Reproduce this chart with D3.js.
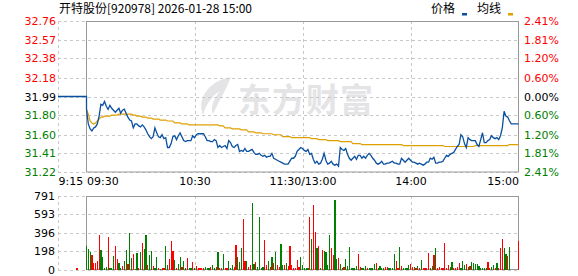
<!DOCTYPE html>
<html>
<head>
<meta charset="utf-8">
<script src="https://cdn.jsdelivr.net/npm/d3@7/dist/d3.min.js"></script>
<style>
  body { margin: 0; background: #fff; }
  svg { display: block; }
  .axis text { font-family: "DejaVu Sans", sans-serif; font-size: 11px; }
</style>
</head>
<body>
<div id="chart"></div>
<script>
// intraday chart, 9:30 = minute 0, 15:00 = minute 240 (lunch break collapsed)
const title = '开特股份[920978] 2026-01-28 15:00';
const preClose = 31.99;

const priceTicks = [32.76, 32.57, 32.38, 32.18, 31.99, 31.80, 31.60, 31.41, 31.22];
const pctTickLabels = ['2.41%', '1.81%', '1.20%', '0.60%', '0.00%', '0.60%', '1.20%', '1.81%', '2.41%'];
const volTicks = [791, 593, 396, 198, 0];
const timeTicks = [-15, 0, 60, 120, 180, 240];
const timeTickLabels = ['9:15', '09:30', '10:30', '11:30/13:00', '14:00', '15:00'];
const gridMinutes = [-15, 60, 120, 180];

// call auction (minutes before 9:30)
const preTimes = [-15, 0];
const prePrices = [31.99, 31.99];
const preVolTimes = [-5];
const preVols = [15];

const prices = [
  31.86, 31.71, 31.66, 31.64, 31.67, 31.68, 31.71, 31.79, 31.91, 31.90,
  31.94, 31.89, 31.86, 31.90, 31.87, 31.85, 31.83, 31.85, 31.87, 31.82,
  31.85, 31.86, 31.82, 31.78, 31.75, 31.74, 31.67, 31.71, 31.71, 31.69,
  31.68, 31.70, 31.68, 31.65, 31.61, 31.58, 31.56, 31.58, 31.67, 31.62,
  31.58, 31.57, 31.60, 31.56, 31.57, 31.47, 31.47, 31.51, 31.58, 31.59,
  31.55, 31.59, 31.62, 31.58, 31.54, 31.53, 31.54, 31.54, 31.54, 31.59,
  31.57, 31.60, 31.61, 31.61, 31.61, 31.61, 31.58, 31.54, 31.54, 31.53,
  31.53, 31.55, 31.54, 31.47, 31.49, 31.47, 31.48, 31.49, 31.46, 31.54,
  31.52, 31.48, 31.47, 31.49, 31.50, 31.43, 31.44, 31.43, 31.46, 31.43,
  31.43, 31.44, 31.45, 31.42, 31.40, 31.40, 31.41, 31.39, 31.38, 31.39,
  31.37, 31.38, 31.38, 31.41, 31.36, 31.35, 31.34, 31.33, 31.32, 31.31,
  31.30, 31.30, 31.30, 31.33, 31.36, 31.36, 31.38, 31.43, 31.45, 31.47,
  31.46, 31.44, 31.43, 31.45, 31.40, 31.41, 31.35, 31.31, 31.33, 31.30,
  31.31, 31.35, 31.41, 31.34, 31.30, 31.31, 31.33, 31.30, 31.29, 31.30,
  31.28, 31.47, 31.45, 31.44, 31.46, 31.40, 31.36, 31.34, 31.36, 31.38,
  31.35, 31.39, 31.39, 31.36, 31.38, 31.36, 31.39, 31.41, 31.39, 31.36,
  31.34, 31.31, 31.30, 31.31, 31.33, 31.30, 31.30, 31.31, 31.31, 31.32,
  31.33, 31.31, 31.31, 31.30, 31.30, 31.36, 31.34, 31.32, 31.34, 31.36,
  31.34, 31.32, 31.32, 31.31, 31.30, 31.31, 31.30, 31.29, 31.30, 31.32,
  31.32, 31.36, 31.35, 31.37, 31.31, 31.31, 31.32, 31.32, 31.33, 31.36,
  31.39, 31.38, 31.40, 31.41, 31.42, 31.45, 31.48, 31.50, 31.60, 31.58,
  31.51, 31.47, 31.57, 31.55, 31.54, 31.54, 31.54, 31.50, 31.48, 31.55,
  31.62, 31.52, 31.52, 31.54, 31.55, 31.59, 31.57, 31.56, 31.57, 31.55,
  31.59, 31.67, 31.84, 31.79, 31.78, 31.74, 31.71, 31.71, 31.71, 31.71,
  31.71
];

const avgPrices = [
  31.86, 31.81, 31.74, 31.72, 31.71, 31.72, 31.74, 31.76, 31.78, 31.78,
  31.79, 31.79, 31.79, 31.79, 31.80, 31.80, 31.80, 31.80, 31.81, 31.81,
  31.81, 31.81, 31.81, 31.81, 31.81, 31.81, 31.80, 31.80, 31.79, 31.79,
  31.79, 31.78, 31.78, 31.78, 31.77, 31.77, 31.77, 31.76, 31.76, 31.76,
  31.76, 31.75, 31.75, 31.75, 31.75, 31.74, 31.74, 31.74, 31.74, 31.72,
  31.72, 31.72, 31.72, 31.71, 31.71, 31.71, 31.71, 31.70, 31.70, 31.70,
  31.70, 31.70, 31.70, 31.70, 31.70, 31.70, 31.70, 31.70, 31.70, 31.70,
  31.70, 31.70, 31.70, 31.70, 31.69, 31.69, 31.69, 31.67, 31.67, 31.67,
  31.67, 31.66, 31.66, 31.66, 31.66, 31.66, 31.65, 31.65, 31.65, 31.65,
  31.63, 31.63, 31.63, 31.63, 31.62, 31.62, 31.62, 31.62, 31.61, 31.61,
  31.61, 31.61, 31.61, 31.61, 31.60, 31.60, 31.60, 31.60, 31.60, 31.58,
  31.58, 31.58, 31.58, 31.58, 31.57, 31.57, 31.57, 31.57, 31.57, 31.57,
  31.57, 31.57, 31.57, 31.57, 31.57, 31.56, 31.56, 31.56, 31.56, 31.55,
  31.55, 31.55, 31.55, 31.55, 31.54, 31.54, 31.54, 31.54, 31.54, 31.54,
  31.54, 31.53, 31.53, 31.53, 31.53, 31.53, 31.53, 31.53, 31.51, 31.51,
  31.51, 31.51, 31.51, 31.50, 31.50, 31.50, 31.50, 31.50, 31.50, 31.50,
  31.50, 31.50, 31.50, 31.50, 31.50, 31.50, 31.50, 31.50, 31.50, 31.50,
  31.50, 31.50, 31.50, 31.50, 31.50, 31.50, 31.49, 31.49, 31.49, 31.49,
  31.49, 31.49, 31.49, 31.49, 31.49, 31.49, 31.49, 31.49, 31.49, 31.49,
  31.49, 31.49, 31.49, 31.49, 31.49, 31.49, 31.49, 31.49, 31.49, 31.48,
  31.48, 31.48, 31.48, 31.48, 31.48, 31.48, 31.48, 31.48, 31.48, 31.48,
  31.48, 31.48, 31.48, 31.48, 31.48, 31.48, 31.49, 31.49, 31.49, 31.49,
  31.49, 31.49, 31.49, 31.49, 31.49, 31.49, 31.49, 31.49, 31.49, 31.49,
  31.49, 31.49, 31.49, 31.49, 31.49, 31.50, 31.50, 31.50, 31.50, 31.50,
  31.50
];

const volumes = [
  253, 220, 183, 154, 73, 73, 88, 374, 209, 132,
  15, 22, 345, 15, 15, 143, 253, 110, 73, 15,
  37, 88, 209, 62, 392, 125, 172, 7, 176, 15,
  183, 282, 220, 367, 44, 154, 198, 37, 15, 132,
  15, 7, 15, 15, 253, 51, 110, 308, 198, 99,
  15, 62, 132, 26, 88, 15, 125, 15, 15, 81,
  15, 37, 15, 15, 15, 15, 22, 15, 15, 22,
  44, 15, 26, 183, 15, 15, 172, 15, 15, 88,
  15, 44, 22, 264, 136, 81, 227, 539, 88, 88,
  22, 51, 715, 59, 81, 22, 565, 15, 22, 319,
  51, 88, 22, 132, 66, 191, 44, 26, 271, 51,
  44, 66, 33, 253, 51, 15, 15, 99, 26, 136,
  51, 15, 15, 15, 565, 330, 693, 400, 235, 253,
  18, 209, 202, 191, 44, 374, 235, 154, 752, 110,
  125, 59, 15, 26, 110, 33, 242, 15, 15, 15,
  37, 165, 26, 15, 15, 37, 15, 15, 15, 15,
  62, 73, 15, 37, 15, 15, 26, 26, 15, 15,
  15, 165, 88, 15, 246, 33, 15, 15, 15, 44,
  59, 26, 26, 15, 37, 15, 103, 15, 15, 15,
  180, 15, 37, 154, 235, 15, 22, 15, 15, 286,
  15, 44, 22, 77, 15, 15, 26, 66, 15, 88,
  44, 59, 26, 37, 77, 70, 59, 55, 37, 15,
  15, 15, 15, 77, 15, 26, 44, 15, 66, 15,
  235, 323, 235, 169, 147, 242, 0, 0, 0, 0,
  312
];

// 1 = traded up (red), -1 = traded down (green)
const volDir = [
  -1, -1, -1, 1, 1, 1, 1, 1, -1, -1,
  -1, -1, 1, -1, -1, -1, 1, 1, -1, -1,
  1, -1, -1, 1, -1, -1, 1, -1, -1, 1,
  -1, 1, -1, -1, 1, -1, -1, 1, -1, -1,
  1, -1, 1, 1, -1, -1, 1, 1, 1, -1,
  1, -1, -1, 1, -1, -1, 1, -1, -1, 1,
  -1, 1, 1, 1, 1, 1, -1, -1, -1, 1,
  -1, -1, 1, -1, 1, 1, -1, 1, 1, -1,
  -1, -1, 1, 1, -1, -1, -1, 1, 1, -1,
  1, 1, -1, -1, 1, -1, -1, -1, -1, 1,
  1, -1, 1, -1, 1, -1, 1, 1, -1, -1,
  1, -1, 1, 1, 1, 1, 1, 1, 1, -1,
  -1, -1, -1, -1, 1, -1, 1, 1, -1, 1,
  -1, 1, -1, -1, -1, -1, 1, 1, -1, -1,
  1, -1, -1, 1, -1, -1, -1, -1, -1, -1,
  -1, 1, 1, -1, -1, -1, 1, -1, -1, -1,
  -1, 1, -1, -1, -1, -1, 1, 1, -1, -1,
  -1, -1, 1, 1, -1, 1, -1, -1, -1, -1,
  1, 1, -1, 1, -1, 1, -1, 1, 1, 1,
  1, -1, -1, 1, -1, 1, 1, 1, 1, 1,
  1, 1, -1, -1, 1, 1, 1, 1, -1, -1,
  -1, 1, -1, 1, -1, -1, -1, -1, -1, -1,
  -1, -1, -1, 1, 1, -1, -1, 1, -1, 1,
  1, 1, -1, -1, 1, -1, 1, 1, 1, 1,
  1
];

const W = 578, H = 276;
const RED = '#ff0000', GREEN = '#008000', BLUE = '#0a50a0', GOLD = '#e0a000';
const GRID = '#c8c8c8', FRAME = '#999999';

const x = d3.scaleLinear().domain([-15, 0, 240]).range([58, 86.5, 518.5]);
const yP = d3.scaleLinear().domain([31.22, 32.76]).range([172, 21]);
const yV = d3.scaleLinear().domain([0, 791]).range([269.5, 196]);

const svg = d3.select('#chart').append('svg')
  .attr('width', W).attr('height', H);

// watermark
const wm = svg.append('g').attr('fill', '#e4e4e7');
wm.append('path')
  .attr('d', 'M231,77 C212,80 196,96 203,115 C206,104 212,96 220,91 C213,100 210,108 213,114 C219,101 226,90 231,77 Z');
wm.append('text')
  .attr('x', 238).attr('y', 112)
  .attr('font-family', '"Noto Sans CJK SC", sans-serif')
  .attr('font-weight', 'bold').attr('font-size', 33)
  .attr('letter-spacing', 1)
  .text('东方财富');

// title & legend
svg.append('text')
  .attr('x', 59).attr('y', 13)
  .attr('font-family', '"Noto Sans CJK SC", sans-serif').attr('font-size', 12)
  .text(title);

const legend = svg.append('g')
  .attr('font-family', '"Noto Sans CJK SC", sans-serif').attr('font-size', 12);
legend.append('text').attr('x', 431).attr('y', 13).text('价格');
legend.append('rect').attr('x', 462).attr('y', 13).attr('width', 5).attr('height', 2.5).attr('fill', BLUE);
legend.append('text').attr('x', 477).attr('y', 13).text('均线');
legend.append('rect').attr('x', 508).attr('y', 13).attr('width', 5).attr('height', 2.5).attr('fill', GOLD);

// grids
function grid(yScale, ticks, y0, y1) {
  const g = svg.append('g')
    .attr('stroke', GRID).attr('stroke-dasharray', '3,3')
    .attr('shape-rendering', 'crispEdges');
  g.selectAll('line.h').data(ticks).enter().append('line')
    .attr('class', 'h')
    .attr('x1', 58).attr('x2', 519)
    .attr('y1', d => Math.round(yScale(d)) + 0.5)
    .attr('y2', d => Math.round(yScale(d)) + 0.5);
  g.selectAll('line.v').data(gridMinutes).enter().append('line')
    .attr('class', 'v')
    .attr('x1', d => Math.round(x(d)) + 0.5).attr('x2', d => Math.round(x(d)) + 0.5)
    .attr('y1', y0).attr('y2', y1);
}
grid(yP, priceTicks, 21, 172);
grid(yV, volTicks, 196, 270);

// frames
svg.append('rect').attr('x', 86.5).attr('y', 21.5).attr('width', 432).attr('height', 150.5)
  .attr('fill', 'none').attr('stroke', FRAME);
svg.append('rect').attr('x', 86.5).attr('y', 196.5).attr('width', 432).attr('height', 73)
  .attr('fill', 'none').attr('stroke', FRAME);

// axes
function styleAxis(g) {
  g.select('.domain').remove();
  g.selectAll('.tick line').remove();
}
const pColor = d => d > preClose ? RED : (d < preClose ? GREEN : '#000');

const axL = svg.append('g').attr('class', 'axis')
  .attr('transform', 'translate(58,0)')
  .call(d3.axisLeft(yP).tickValues(priceTicks).tickFormat(d3.format('.2f')).tickSize(0).tickPadding(2))
  .call(styleAxis);
axL.selectAll('.tick text').attr('fill', d => pColor(d));

const axR = svg.append('g').attr('class', 'axis')
  .attr('transform', 'translate(519,0)')
  .call(d3.axisRight(yP).tickValues(priceTicks).tickFormat((d, i) => pctTickLabels[i]).tickSize(0).tickPadding(5))
  .call(styleAxis);
axR.selectAll('.tick text').attr('fill', d => pColor(d));

svg.append('g').attr('class', 'axis')
  .attr('transform', 'translate(58,0)')
  .call(d3.axisLeft(yV).tickValues(volTicks).tickFormat(d3.format('d')).tickSize(0).tickPadding(3))
  .call(styleAxis)
  .selectAll('.tick text').attr('fill', '#000');

const axB = svg.append('g').attr('class', 'axis')
  .attr('transform', 'translate(0,172)')
  .call(d3.axisBottom(x).tickValues(timeTicks).tickFormat((d, i) => timeTickLabels[i]).tickSize(0).tickPadding(5))
  .call(styleAxis);
axB.selectAll('.tick text')
  .attr('fill', '#000')
  .attr('text-anchor', (d, i) => i <= 1 ? 'start' : (i === timeTicks.length - 1 ? 'end' : 'middle'));

// volume bars
const bars = svg.append('g').attr('shape-rendering', 'crispEdges');
bars.selectAll('rect.v').data(volumes).enter().append('rect')
  .attr('class', 'v')
  .attr('x', (d, i) => x(i) - 0.6)
  .attr('width', 1.3)
  .attr('y', d => yV(d))
  .attr('height', d => yV(0) - yV(d))
  .attr('fill', (d, i) => volDir[i] > 0 ? RED : GREEN);
bars.selectAll('rect.p').data(preVols).enter().append('rect')
  .attr('class', 'p')
  .attr('x', (d, i) => x(preVolTimes[i]) - 0.6)
  .attr('width', 1.3)
  .attr('y', d => yV(d))
  .attr('height', d => yV(0) - yV(d))
  .attr('fill', RED);

// price & average lines
const line = d3.line().x(d => x(d[0])).y(d => yP(d[1]));
const pricePts = preTimes.map((t, i) => [t, prePrices[i]])
  .concat(prices.map((p, i) => [i, p]));
svg.append('path')
  .attr('d', line(avgPrices.map((p, i) => [i, p])))
  .attr('fill', 'none').attr('stroke', GOLD).attr('stroke-width', 1.2);
svg.append('path')
  .attr('d', line(pricePts))
  .attr('fill', 'none').attr('stroke', BLUE).attr('stroke-width', 1.3);
</script>
</body>
</html>
